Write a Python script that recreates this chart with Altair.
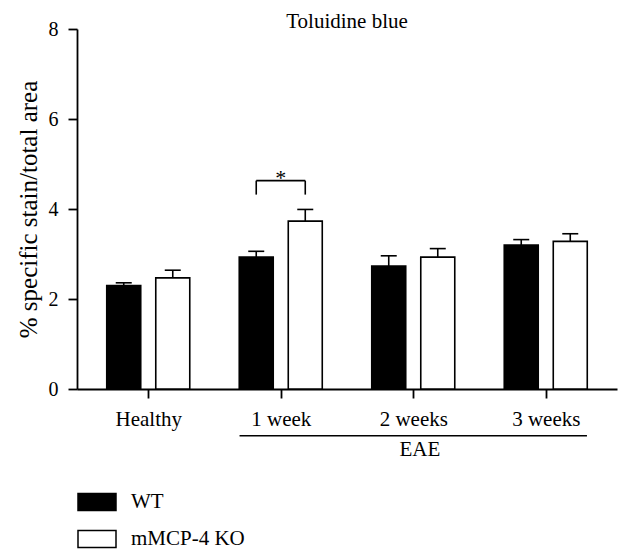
import json
import altair as alt
import pandas as pd

# ---------------- data ----------------
groups = ["Healthy", "1 week", "2 weeks", "3 weeks"]
genotypes = ["WT", "mMCP-4 KO"]
wt_mean = [2.30, 2.93, 2.73, 3.20]
wt_sem = [0.06, 0.13, 0.23, 0.12]
ko_mean = [2.47, 3.73, 2.93, 3.28]
ko_sem = [0.17, 0.26, 0.19, 0.17]
y_ticks = [0, 2, 4, 6, 8]

sig_group = "1 week"
sig_label = "*"
sig_bracket_top = 4.63
sig_bracket_bottom = 4.32

eae_label = "EAE"
eae_groups = ["1 week", "2 weeks", "3 weeks"]

chart_title = "Toluidine blue"
y_title = "% specific stain/total area"

# ---------------- layout constants ----------------
FONT = "Liberation Serif"
OFFSET = 0.185      # bar centre offset from the group centre (group spacing = 1)
HALF_BAR = 0.126    # half bar width in group units
EAE_Y = -1.04
EAE_TEXT_Y = -1.49
Y_MAX = 8

rows = []
for i, g in enumerate(groups):
    for gt, m, s, off in ((genotypes[0], wt_mean[i], wt_sem[i], -OFFSET),
                          (genotypes[1], ko_mean[i], ko_sem[i], OFFSET)):
        rows.append({"group": g, "genotype": gt, "mean": m, "upper": m + s, "pos": i + off})
df = pd.DataFrame(rows)

sig_rows = df[df["group"] == sig_group]
x_wt = float(sig_rows[sig_rows["genotype"] == genotypes[0]]["pos"].iloc[0])
x_ko = float(sig_rows[sig_rows["genotype"] == genotypes[1]]["pos"].iloc[0])
legs = pd.DataFrame({"pos": [x_wt, x_ko], "lo": [sig_bracket_bottom] * 2, "hi": [sig_bracket_top] * 2})
top = pd.DataFrame({"pos": [x_wt], "pos2": [x_ko], "y": [sig_bracket_top]})
star = pd.DataFrame({"pos": [(x_wt + x_ko) / 2], "y": [sig_bracket_top], "t": [sig_label]})

eae_pos = df[df["group"].isin(eae_groups)]["pos"]
eae_line = pd.DataFrame({"pos": [eae_pos.min() - HALF_BAR], "pos2": [eae_pos.max() + HALF_BAR], "y": [EAE_Y]})
eae_text = pd.DataFrame({"pos": [(eae_pos.min() + eae_pos.max()) / 2 + 0.05], "y": [EAE_TEXT_Y], "t": [eae_label]})

title_df = pd.DataFrame({"pos": [(len(groups) - 1) / 2], "y": [Y_MAX], "t": [chart_title]})

label_expr = json.dumps(groups) + "[round(datum.value)]"

xscale = alt.Scale(domain=[-0.5, len(groups) - 0.5], nice=False, zero=False)
yscale = alt.Scale(domain=[0, Y_MAX], nice=False)
xaxis = alt.Axis(values=list(range(len(groups))), labelExpr=label_expr, title=None,
                 labelFont=FONT, labelFontSize=21, labelPadding=10, tickSize=9,
                 labelColor="black", domainColor="black", tickColor="black",
                 domainWidth=1.8, tickWidth=1.8, grid=False)
yaxis = alt.Axis(values=y_ticks, title=y_title, titleFont=FONT, titleFontSize=25,
                 titleFontWeight="normal", titleColor="black",
                 labelFont=FONT, labelFontSize=20, labelPadding=10, tickSize=9, titlePadding=7,
                 labelColor="black", domainColor="black", tickColor="black",
                 domainWidth=1.8, tickWidth=1.8, grid=False)

X = alt.X("pos:Q", scale=xscale, axis=xaxis)
Y = alt.Y("mean:Q", scale=yscale, axis=yaxis)


def yq(field):
    return alt.Y(field, scale=yscale, axis=yaxis)


bars = alt.Chart(df).mark_bar(width=34, stroke="black", strokeWidth=1.6).encode(
    x=X,
    y=Y,
    fill=alt.Fill("genotype:N", scale=alt.Scale(domain=genotypes, range=["black", "white"]),
                  legend=alt.Legend(orient="none", legendX=0, legendY=453, title=None,
                                    symbolType="M-1,-0.45H1V0.45H-1Z", symbolSize=1444,
                                    symbolStrokeColor="black", symbolStrokeWidth=1.5,
                                    symbolOpacity=1, labelFontSize=21, labelFont=FONT,
                                    labelColor="black", labelOffset=14, rowPadding=5,
                                    padding=0)),
)

err = alt.Chart(df).mark_rule(color="black", strokeWidth=1.6).encode(
    x=X, y=Y, y2=alt.Y2("upper:Q"))
caps = alt.Chart(df).mark_tick(orient="horizontal", size=16, thickness=1.6, color="black", opacity=1).encode(
    x=X, y=yq("upper:Q"))

legs_l = alt.Chart(legs).mark_rule(color="black", strokeWidth=1.6).encode(
    x=X, y=yq("lo:Q"), y2="hi:Q")
top_l = alt.Chart(top).mark_rule(color="black", strokeWidth=1.6).encode(
    x=X, x2="pos2:Q", y=yq("y:Q"))
star_l = alt.Chart(star).mark_text(font=FONT, fontSize=22, baseline="alphabetic", dy=4, color="black").encode(
    x=X, y=yq("y:Q"), text="t:N")

eae_l = alt.Chart(eae_line).mark_rule(color="black", strokeWidth=1.6).encode(
    x=X, x2="pos2:Q", y=yq("y:Q"))
eae_t = alt.Chart(eae_text).mark_text(font=FONT, fontSize=21, baseline="alphabetic", color="black").encode(
    x=X, y=yq("y:Q"), text="t:N")

title_t = alt.Chart(title_df).mark_text(font=FONT, fontSize=21, baseline="alphabetic", dy=-1, color="black").encode(
    x=X, y=yq("y:Q"), text="t:N")

chart = alt.layer(bars, err, caps, legs_l, top_l, star_l, eae_l, eae_t, title_t).properties(
    width=540, height=360,
    autosize=alt.AutoSizeParams(type="none"),
    padding={"left": 69, "top": 21, "right": 7, "bottom": 160},
    background="white",
).configure_view(stroke=None)

chart.save("out.html", embed_options={"renderer": "svg", "actions": False})
